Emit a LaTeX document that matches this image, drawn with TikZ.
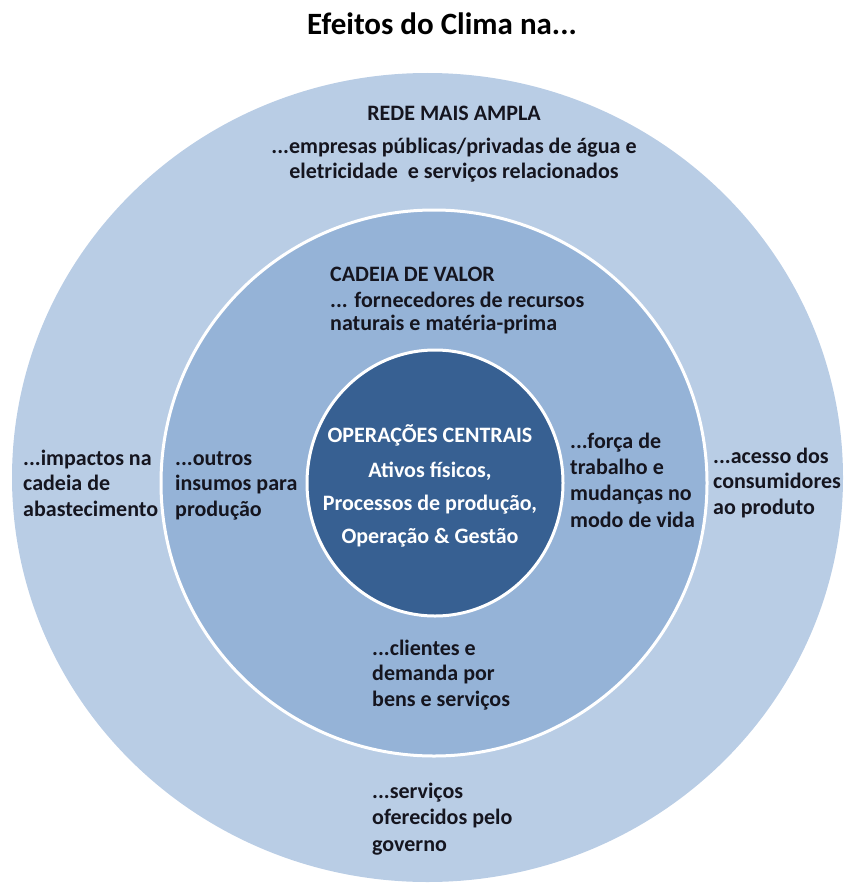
\documentclass[tikz,border=0pt]{standalone}
\usepackage{fontspec}
\setmainfont{Carlito}
\usetikzlibrary{shapes,positioning}
\definecolor{outerblue}{HTML}{B9CDE5}
\definecolor{midblue}{HTML}{95B3D7}
\definecolor{coreblue}{HTML}{376092}
\definecolor{textdark}{HTML}{15151F}

\begin{document}
\begin{tikzpicture}[x=1pt, y=-1pt,
   ring/.style={draw=white, line width=3pt, inner sep=0pt},
   lbl/.style={inner sep=0pt, align=left, anchor=base west, text=textdark,
      font=\bfseries\fontsize{22}{25.5}\selectfont},
   ctr/.style={lbl, align=center, anchor=base}]
   \useasboundingbox (0,0) rectangle (844,888);

   % Title
   \node[ctr, text=black, font=\bfseries\fontsize{31}{36}\selectfont] (title) at (442,35) {Efeitos do Clima na...};

   % Rings
   \node[ellipse, fill=outerblue, inner sep=0pt, minimum width=831pt, minimum height=809pt] (outer) at (427.5,477.5) {};
   \node[circle, ring, fill=midblue, minimum size=546pt] (chain) at (434,483) {};
   \node[ellipse, ring, fill=coreblue, minimum width=256pt, minimum height=266pt] (core) at (435,483) {};

   % Outer ring texts (anchored at the last baseline)
   \node[ctr] (rede) at (454,121) {REDE MAIS AMPLA};
   \node[ctr, font=\bfseries\fontsize{22}{25}\selectfont] (utilities) at (454,178) {...empresas públicas/privadas de água e\\eletricidade\ \ e serviços relacionados};
   \node[lbl] (supply) at (23,516) {...impactos na\\cadeia de\\abastecimento};
   \node[lbl] (access) at (713,514) {...acesso dos\\consumidores\\ao produto};
   \node[lbl, font=\bfseries\fontsize{22}{26.5}\selectfont] (government) at (372,851) {...serviços\\oferecidos pelo\\governo};

   % Value chain texts
   \node[lbl, font=\bfseries\fontsize{22}{23}\selectfont] (chaintitle) at (330,330) {CADEIA DE VALOR\\[3pt]... fornecedores de recursos\\naturais e matéria-prima};
   \node[lbl] (inputs) at (175,516) {...outros\\insumos para\\produção};
   \node[lbl, font=\bfseries\fontsize{22}{26.3}\selectfont] (labour) at (570,527) {...força de\\trabalho e\\mudanças no\\modo de vida};
   \node[lbl] (clients) at (372,706) {...clientes e\\demanda por\\bens e serviços};

   % Core texts
   \node[ctr, text=white, font=\bfseries\fontsize{22}{33}\selectfont] (coretext) at (430,543) {OPERAÇÕES CENTRAIS\\[2pt]Ativos físicos,\\Processos de produção,\\Operação \& Gestão};
\end{tikzpicture}
\end{document}
